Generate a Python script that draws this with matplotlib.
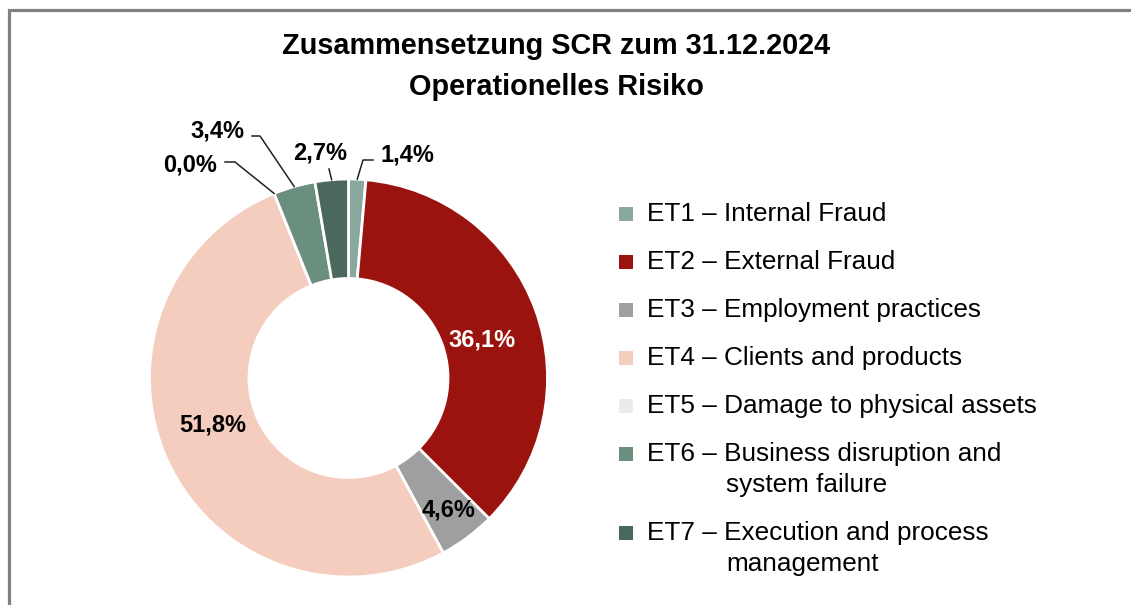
import numpy as np
import matplotlib
matplotlib.use("Agg")
import matplotlib.pyplot as plt
from matplotlib.patches import Rectangle

plt.rcParams['font.family'] = ['Liberation Sans', 'DejaVu Sans']

# data
categories = ["ET1 – Internal Fraud",
              "ET2 – External Fraud",
              "ET3 – Employment practices",
              "ET4 – Clients and products",
              "ET5 – Damage to physical assets",
              "ET6 – Business disruption and\nsystem failure",
              "ET7 – Execution and process\nmanagement"]
shares = [1.4, 36.1, 4.6, 51.8, 0.0, 3.4, 2.7]
colors = ['#8aa99e', '#9a130e', '#9f9f9f', '#f4cdbf', '#ebebeb', '#6a8f7f', '#4a685c']
title = "Zusammensetzung SCR zum 31.12.2024\nOperationelles Risiko"

W, H = 1131, 605
fig = plt.figure(figsize=(W / 100, H / 100), dpi=100)

# gray frame (runs off right and bottom edges)
fig.patches.append(Rectangle((9 / W, -0.1), 1.2, 1 - 10 / H + 0.1, transform=fig.transFigure,
                             fill=False, edgecolor='#808080', linewidth=2.3))

fig.text(556.5 / W, 1 - 66.5 / H, title, ha='center', va='center', fontsize=20.8,
         fontweight='bold', linespacing=1.55)

# donut
cx, cy, R = 348.5, 378, 199
ax = fig.add_axes([(cx - R) / W, (H - cy - R) / H, 2 * R / W, 2 * R / H])

wedges, _ = ax.pie(shares, colors=colors, startangle=90, counterclock=False, radius=1,
                   wedgeprops=dict(width=0.5, edgecolor='white', linewidth=2))
ax.set_xlim(-1, 1)
ax.set_ylim(-1, 1)
ax.set_aspect('equal')
ax.axis('off')


def px(x, y):
    return (x - cx) / R, (cy - y) / R


def fmt(v):
    return f"{v:.1f}%".replace('.', ',')


# inside labels: index -> (text pos in px, colour)
inside = {1: ((482, 340), 'white'), 2: ((449, 510), 'black'), 3: ((213, 425), 'black')}
for i, (tpos, c) in inside.items():
    tx, ty = px(*tpos)
    ax.text(tx, ty, fmt(shares[i]), ha='center', va='center',
            fontsize=17, fontweight='bold', color=c)

# outside labels with leader lines: index -> (elbow points in px, text pos, ha)
outside = {
    0: ([(363, 160), (373, 160)], (380, 155), 'left'),
    6: ([(329, 169)], (320, 153), 'center'),
    5: ([(260, 136), (252, 136)], (217, 131), 'center'),
    4: ([(235, 162), (225, 162)], (190, 165), 'center'),
}
for i, (pts, tpos, ha) in outside.items():
    w = wedges[i]
    mid = np.deg2rad((w.theta1 + w.theta2) / 2)
    xs = [np.cos(mid)] + [px(*p)[0] for p in pts]
    ys = [np.sin(mid)] + [px(*p)[1] for p in pts]
    ax.plot(xs, ys, color='#222222', linewidth=1.1, clip_on=False)
    tx, ty = px(*tpos)
    ax.text(tx, ty, fmt(shares[i]), ha=ha, va='center', fontsize=17,
            fontweight='bold', clip_on=False)

# legend drawn by hand
y = 214
for lab, col in zip(categories, colors):
    lines = lab.split('\n')
    fig.patches.append(Rectangle((619 / W, 1 - (y + 7) / H), 14 / W, 14 / H,
                                 transform=fig.transFigure, facecolor=col, edgecolor='none'))
    fig.text(647 / W, 1 - y / H, lines[0], ha='left', va='center', fontsize=18.85)
    for k, extra in enumerate(lines[1:]):
        fig.text(726 / W, 1 - (y + 31 * (k + 1)) / H, extra, ha='left', va='center', fontsize=18.85)
    y += 48 + 31 * (len(lines) - 1)

fig.savefig('out.png', dpi=100)
